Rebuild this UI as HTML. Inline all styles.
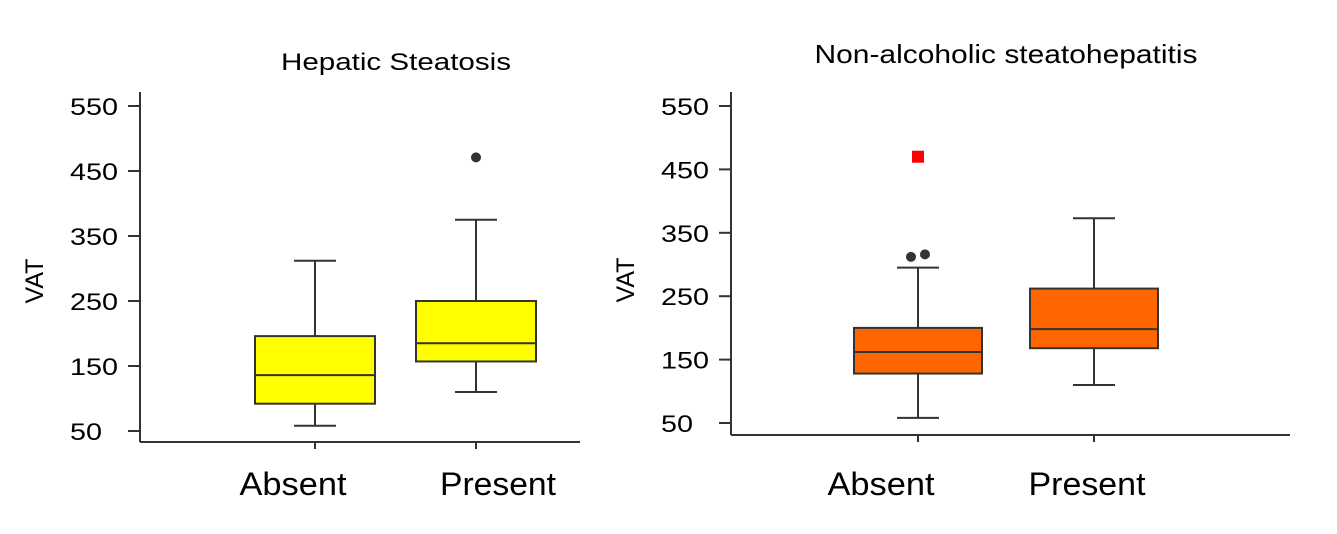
<!DOCTYPE html>
<html><head><meta charset="utf-8"><style>
body{margin:0;background:#fff;}
svg text{font-family:"Liberation Sans",sans-serif;fill:#000;}
</style></head><body>
<svg id="c" width="1337" height="529" xmlns="http://www.w3.org/2000/svg"></svg>
<script>
const categories=["Absent","Present"];
const yTicks=[50,150,250,350,450,550];
const hsStats=[[58,92,136,196,312],[110,157,185,250,375]];
const hsOutliers=[[],[471]];
const nashStats=[[58,128,162,200,295],[110,168,198,262,373]];
const nashOutliers=[[312,316],[]];
const nashSpecial=[470];
const NS="http://www.w3.org/2000/svg";
const svg=document.getElementById('c');
function mk(t,a,p){const e=document.createElementNS(NS,t);for(const k in a)e.setAttribute(k,a[k]);(p||svg).appendChild(e);return e;}
function panel(cfg){
  const g=mk('g',{});
  
  
  const y=v=>cfg.y0+(v-50)*cfg.py;
  const x=i=>cfg.cx[i];
  let t=mk('text',{x:cfg.titleX,y:cfg.titleY,'text-anchor':'middle','font-size':cfg.titleSize,textLength:cfg.titleLen,lengthAdjust:'spacingAndGlyphs'},g);t.textContent=cfg.title;
  
  let ax=mk('line',{x1:cfg.ax,y1:cfg.axTop,x2:cfg.ax,y2:cfg.axBot,stroke:'#333','stroke-width':2},g);
  
  let xa=mk('line',{x1:cfg.ax,y1:cfg.axBot,x2:cfg.axRight,y2:cfg.axBot,stroke:'#333','stroke-width':2},g);
  
  yTicks.forEach(v=>{
    mk('line',{x1:cfg.ax-12,y1:y(v),x2:cfg.ax,y2:y(v),stroke:'#333','stroke-width':2},g);
    const s=String(v);
    let l=mk('text',{x:cfg.ax-70,y:y(v)+9,'font-size':24,textLength:s.length*16,lengthAdjust:'spacingAndGlyphs'},g);l.textContent=s;
    
  });
  let yt=mk('text',{transform:`translate(${cfg.ax-97},${cfg.vatY}) rotate(-90)`,'text-anchor':'middle','font-size':25},g);yt.textContent='VAT';
  
  categories.forEach((c,i)=>{
    mk('line',{x1:x(i),y1:cfg.axBot,x2:x(i),y2:cfg.axBot+7,stroke:'#333','stroke-width':2},g);
    let l=mk('text',{x:cfg.lx[i],y:495,'text-anchor':'middle','font-size':32,textLength:cfg.lw[i],lengthAdjust:'spacingAndGlyphs'},g);l.textContent=c;
    
    const s=cfg.stats[i],hw=cfg.hw;
    mk('line',{x1:x(i),y1:y(s[0]),x2:x(i),y2:y(s[1]),stroke:'#333','stroke-width':2},g);
    mk('line',{x1:x(i),y1:y(s[3]),x2:x(i),y2:y(s[4]),stroke:'#333','stroke-width':2},g);
    mk('line',{x1:x(i)-21,y1:y(s[0]),x2:x(i)+21,y2:y(s[0]),stroke:'#333','stroke-width':2},g);
    mk('line',{x1:x(i)-21,y1:y(s[4]),x2:x(i)+21,y2:y(s[4]),stroke:'#333','stroke-width':2},g);
    let b=mk('rect',{x:x(i)-hw,y:y(s[3]),width:2*hw,height:y(s[1])-y(s[3]),fill:cfg.fill,stroke:'#333','stroke-width':2},g);
    
    mk('line',{x1:x(i)-hw,y1:y(s[2]),x2:x(i)+hw,y2:y(s[2]),stroke:'#333','stroke-width':2},g);
    const o=cfg.out[i];
    o.forEach((v,j)=>{
      const off=o.length>1?(j-(o.length-1)/2)*14:0;
      let p=mk('circle',{cx:x(i)+off,cy:y(v),r:5,fill:'#333'},g);
      
    });
  });
  return {y,x,g};
}
panel({name:'hepatic-steatosis-panel',title:'Hepatic Steatosis',titleX:396,titleY:70,titleSize:24,titleLen:230,y0:431,py:-0.65,ax:140,axTop:92,axBot:442,axRight:580,cx:[315,476],lx:[293,498],lw:[107,116],hw:60,fill:'#ffff00',stats:hsStats,out:hsOutliers,vatY:281});
const p2=panel({name:'nash-panel',title:'Non-alcoholic steatohepatitis',titleX:1006,titleY:63,titleSize:26,titleLen:383,y0:423,py:-0.634,ax:731,axTop:92,axBot:435,axRight:1290,cx:[918,1094],lx:[881,1087],lw:[107,117],hw:64,fill:'#ff6600',stats:nashStats,out:nashOutliers,vatY:280});
nashSpecial.forEach(v=>{
  let r=mk('rect',{x:p2.x(0)-6,y:p2.y(v)-6,width:12,height:12,fill:'#ff0000'},p2.g);
  
  
});
</script>
</body></html>
